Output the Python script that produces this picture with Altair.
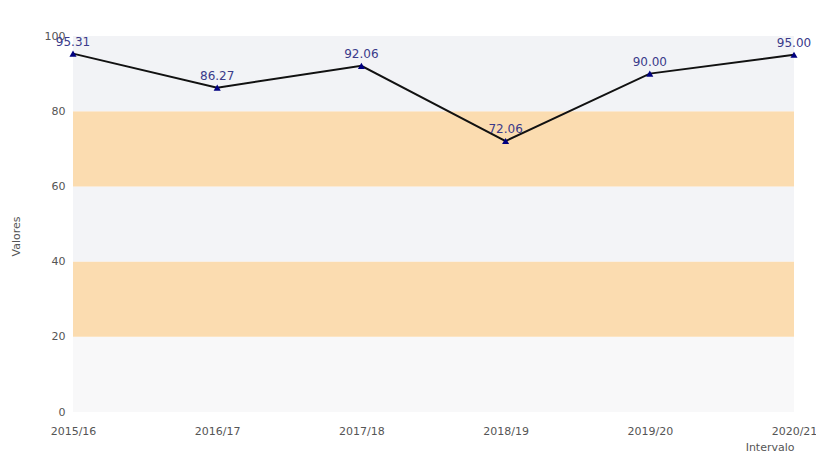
import altair as alt
import pandas as pd

intervals = ["2015/16", "2016/17", "2017/18", "2018/19", "2019/20", "2020/21"]
values = [95.31, 86.27, 92.06, 72.06, 90.00, 95.00]

band_lo = [0, 20, 40, 60, 80]
band_hi = [20, 40, 60, 80, 100]
band_col = ["#f8f8f9", "#fbdcb0", "#f3f4f7", "#fbdcb0", "#f2f3f6"]

df = pd.DataFrame({"Intervalo": intervals, "Valores": values,
                   "lbl": [f"{v:.2f}" for v in values]})
bands = pd.DataFrame({"lo": band_lo, "hi": band_hi, "col": band_col})

W, H = 721, 376
yscale = alt.Scale(domain=[0, 100], nice=False)
xscale = alt.Scale(domain=intervals, padding=0)

rects = alt.Chart(bands).mark_rect().encode(
    x=alt.value(0), x2=alt.value(W),
    y=alt.Y("lo:Q", scale=yscale, title="Valores",
            axis=alt.Axis(values=[0, 20, 40, 60, 80, 100], domain=False, ticks=False,
                          grid=False, labelColor="#555555", labelFontSize=11,
                          labelPadding=8, titleColor="#555555", titleFontSize=11,
                          titleFontWeight="normal", titlePadding=23, titleY=200)),
    y2="hi:Q",
    color=alt.Color("col:N", scale=None),
)

base = alt.Chart(df).encode(
    x=alt.X("Intervalo:N", scale=xscale, sort=intervals,
            axis=alt.Axis(labelAngle=0, domain=False, ticks=False, grid=False,
                          labelColor="#555555", labelFontSize=11, labelPadding=13,
                          titleColor="#555555", titleFontSize=11, titleFontWeight="normal",
                          titleAnchor="end", titlePadding=5)),
    y=alt.Y("Valores:Q", scale=yscale),
)

line = base.mark_line(color="#111111", strokeWidth=2)
pts = base.mark_point(shape="triangle-up", filled=True, color="#000080", size=50, opacity=1)
txt = base.mark_text(dy=-12, color="#3a3a8a", fontSize=12).encode(text="lbl:N")

chart = alt.layer(rects, line, pts, txt).properties(
    width=W, height=H,
    autosize=alt.AutoSizeParams(type="none"),
    padding={"left": 65, "top": 28, "right": 22, "bottom": 40},
).configure(font="DejaVu Sans").configure_view(strokeWidth=0)

chart.save("out.html", embed_options={"renderer": "svg", "actions": False})
